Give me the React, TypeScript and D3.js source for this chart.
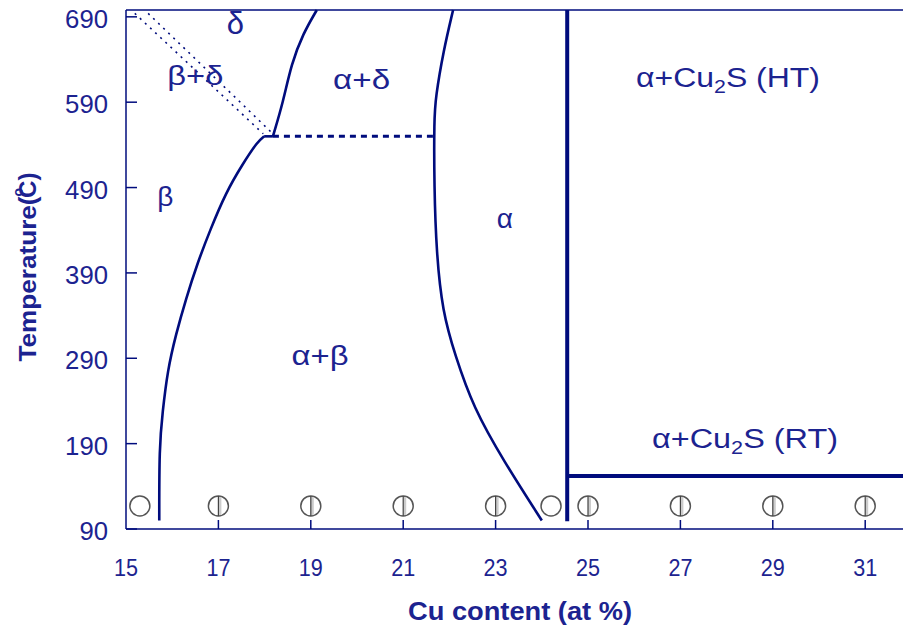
import React from "react";
import * as d3 from "d3";

const W = 903;
const H = 631;

const xTicks = [15, 17, 19, 21, 23, 25, 27, 29, 31];
const yTicks = [90, 190, 290, 390, 490, 590, 690];

// β / α+β boundary (x: Cu at%, y: temperature)
const betaBoundary: [number, number][] = [
  [15.72, 100], [15.72, 186], [15.79, 226], [15.9, 276], [16.08, 318],
  [16.3, 360], [16.55, 402], [16.82, 440], [17.16, 484], [17.53, 518],
  [17.85, 544], [17.99, 550],
];
const betaFlat: [number, number][] = [[17.99, 550], [18.18, 550]];
// α+δ left boundary
const deltaBoundary: [number, number][] = [
  [18.18, 550], [18.4, 590], [18.58, 635], [18.83, 670], [19.13, 698],
];
// α solvus
const alphaBoundary: [number, number][] = [
  [22.08, 698], [21.87, 650], [21.7, 595], [21.67, 570], [21.67, 492],
  [21.72, 413], [21.85, 345], [22.12, 294], [22.52, 232], [23.17, 170],
  [24.0, 100],
];
// dotted β+δ boundaries
const dottedA: [number, number][] = [[15.19, 694], [17.97, 553]];
const dottedB: [number, number][] = [[15.48, 694], [18.18, 553]];
// eutectoid dotted line
const eutectoid: [number, number][] = [[18.18, 550], [21.65, 550]];
// Cu2S phase lines
const cu2sVertical: [number, number][] = [[24.55, 698], [24.55, 99]];
const cu2sHorizontal: [number, number][] = [[24.55, 152], [32, 152]];

// sample markers
const emptyMarkers = [15.3, 24.2];
const lineMarkers = [17, 19, 21, 23, 25, 27, 29, 31];
const markerTemp = 117;

const regionLabels: { text: string; x: number; y: number; len?: number; size?: number }[] = [
  { text: "δ", x: 17.37, y: 683, size: 31 },
  { text: "β+δ", x: 16.5, y: 622, len: 56 },
  { text: "α+δ", x: 20.1, y: 617, len: 57 },
  { text: "β", x: 15.85, y: 480, size: 28 },
  { text: "α", x: 23.2, y: 455, size: 28 },
  { text: "α+β", x: 19.2, y: 294, len: 57 },
];

const LINE = "#000c7d";
const TEXT = "#1c2390";

export default function App() {
  const x = d3.scaleLinear().domain([15, 32]).range([126, 126 + 17 * 46.2]);
  const y = d3.scaleLinear().domain([90, 698]).range([529, 10]);
  const curve = d3.line<[number, number]>().x((d) => x(d[0])).y((d) => y(d[1])).curve(d3.curveBasis);
  const straight = d3.line<[number, number]>().x((d) => x(d[0])).y((d) => y(d[1]));
  const font = "Liberation Sans, Arial, sans-serif";

  return (
    <svg width={W} height={H} style={{ position: "absolute", left: 0, top: 0, background: "#fff" }} fontFamily={font}>
      {/* frame */}
      <line x1={126} x2={W} y1={10} y2={10} stroke={LINE} strokeWidth={1.5} />
      <line x1={126} x2={126} y1={10} y2={529} stroke={LINE} strokeWidth={1.5} />
      <line x1={126} x2={W} y1={529} y2={529} stroke={LINE} strokeWidth={1.5} />

      {/* y ticks */}
      {yTicks.map((t) => (
        <g key={"y" + t}>
          <line x1={126} x2={137} y1={y(t)} y2={y(t)} stroke={LINE} strokeWidth={1.5} />
          <text x={108} y={y(t) + 2} dy="0.36em" textAnchor="end" fontSize={25} fill={TEXT}
            textLength={String(t).length * 14.3} lengthAdjust="spacingAndGlyphs">{t}</text>
        </g>
      ))}
      {/* x ticks */}
      {xTicks.map((t) => (
        <g key={"x" + t}>
          {t !== 15 && <line x1={x(t)} x2={x(t)} y1={529} y2={520} stroke={LINE} strokeWidth={1.5} />}
          <text x={x(t)} y={567} dy="0.36em" textAnchor="middle" fontSize={24} fill={TEXT}
            textLength={24} lengthAdjust="spacingAndGlyphs">{t}</text>
        </g>
      ))}

      {/* axis titles */}
      <text x={520} y={611} dy="0.36em" textAnchor="middle" fontSize={25} fontWeight="bold" fill={TEXT}
        textLength={224} lengthAdjust="spacingAndGlyphs">Cu content (at %)</text>
      <text transform="translate(36,267) rotate(-90)" textAnchor="middle" fontSize={24} fontWeight="bold" fill={TEXT}>
        <tspan textLength={165} lengthAdjust="spacingAndGlyphs">Temperature(</tspan>
        <tspan dy={-13} fontSize={14}>o</tspan>
        <tspan dy={13} dx={-10}>C)</tspan>
      </text>

      {/* dotted lines */}
      <path d={straight(dottedA) || ""} stroke={LINE} strokeWidth={1.6} strokeDasharray="2,5" fill="none" />
      <path d={straight(dottedB) || ""} stroke={LINE} strokeWidth={1.6} strokeDasharray="2,5" fill="none" />
      <path d={straight(eutectoid) || ""} stroke={LINE} strokeWidth={3} strokeDasharray="6,5" fill="none" />

      {/* phase boundaries */}
      <path d={curve(betaBoundary) || ""} stroke={LINE} strokeWidth={2.6} fill="none" />
      <path d={straight(betaFlat) || ""} stroke={LINE} strokeWidth={2.6} fill="none" />
      <path d={curve(deltaBoundary) || ""} stroke={LINE} strokeWidth={2.6} fill="none" />
      <path d={curve(alphaBoundary) || ""} stroke={LINE} strokeWidth={2.6} fill="none" />
      <path d={straight(cu2sVertical) || ""} stroke={LINE} strokeWidth={4} fill="none" />
      <path d={straight(cu2sHorizontal) || ""} stroke={LINE} strokeWidth={4} fill="none" />

      {/* markers */}
      {emptyMarkers.map((m) => (
        <circle key={"e" + m} cx={x(m)} cy={y(markerTemp)} r={10} fill="#fff" stroke="#555" strokeWidth={1.5} />
      ))}
      {lineMarkers.map((m) => (
        <g key={"l" + m}>
          <circle cx={x(m)} cy={y(markerTemp)} r={10} fill="#fff" stroke="#555" strokeWidth={1.5} />
          <rect x={x(m)} y={y(markerTemp) - 9} width={3} height={18} fill="#ccc" />
          <line x1={x(m)} x2={x(m)} y1={y(markerTemp) - 10} y2={y(markerTemp) + 10} stroke="#444" strokeWidth={1.2} />
        </g>
      ))}

      {/* region labels */}
      {regionLabels.map((l) => (
        <text key={l.text} x={x(l.x)} y={y(l.y)} dy="0.36em" textAnchor="middle" fontSize={l.size || 27} fill={TEXT}
          {...(l.len ? { textLength: l.len, lengthAdjust: "spacingAndGlyphs" } : {})}>{l.text}</text>
      ))}
      <text x={728} y={77} dy="0.36em" textAnchor="middle" fontSize={27} fill={TEXT}
        textLength={184} lengthAdjust="spacingAndGlyphs">
        α+Cu<tspan fontSize={18} dy={6}>2</tspan><tspan dy={-6}>S (HT)</tspan>
      </text>
      <text x={745} y={438} dy="0.36em" textAnchor="middle" fontSize={27} fill={TEXT}
        textLength={186} lengthAdjust="spacingAndGlyphs">
        α+Cu<tspan fontSize={18} dy={6}>2</tspan><tspan dy={-6}>S (RT)</tspan>
      </text>
    </svg>
  );
}
